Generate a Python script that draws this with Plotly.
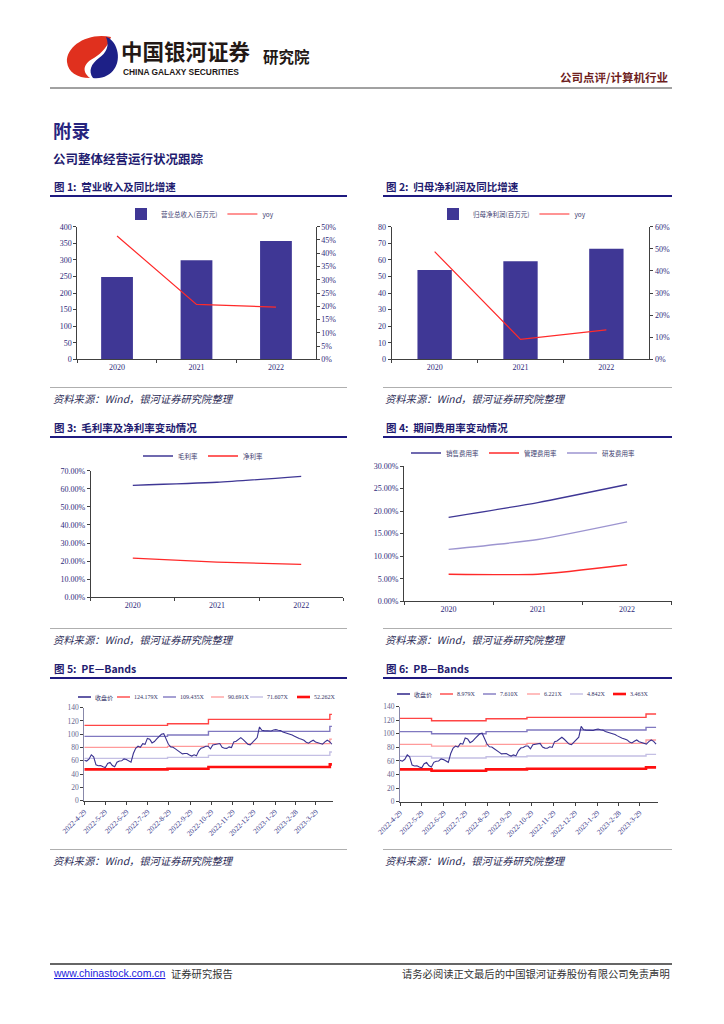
import pandas as pd
import plotly.graph_objects as go

W, H = 724, 1024
CJK = "Noto Sans CJK SC"
SERIF = "Liberation Serif"
SANS = "Liberation Sans"

# ---------------- data ----------------
years = ["2020", "2021", "2022"]
revenue = [248, 299, 357]
revenue_yoy = [0.465, 0.207, 0.197]
net_profit = [53.9, 59.1, 66.7]
net_profit_yoy = [0.487, 0.090, 0.133]
gross_margin = [0.619, 0.636, 0.669]
net_margin = [0.217, 0.195, 0.182]
sales_exp = [0.186, 0.219, 0.259]
admin_exp = [0.060, 0.060, 0.081]
rd_exp = [0.115, 0.137, 0.176]

close = [61, 59.7, 62.5, 69, 66, 54, 52.7, 53, 51, 50,
         56, 57.7, 53, 51, 58, 59.7, 60, 63, 62, 60.5,
         58, 71, 79, 82, 80.5, 85.8, 84.8, 93.8, 92.5, 87,
         89, 93, 97, 100, 101, 93, 85, 81, 80.5, 78,
         75, 73, 70.5, 71, 71, 68.7, 67.2, 69, 67.5, 75,
         79, 80, 82, 82, 78, 84, 84.5, 85, 86, 80.5,
         79, 78.8, 81, 80, 88.5, 89.5, 93, 95, 92, 88,
         85, 84, 87.8, 91, 95, 111, 106, 105.5, 105, 105.4,
         105, 106.5, 107, 106, 105.5, 103.5, 102.5, 101.5, 100.5, 99,
         97, 95, 93.5, 92.5, 91, 88, 86.5, 89, 91, 88.5,
         87, 86.5, 85, 88.5, 91, 89, 85]
price_start, price_end = "2022-04-29", "2023-04-21"
axis_end = "2023-04-23"

month_ticks = ["2022-04-29", "2022-05-29", "2022-06-29", "2022-07-29", "2022-08-29",
               "2022-09-29", "2022-10-29", "2022-11-29", "2022-12-29", "2023-01-29",
               "2023-02-28", "2023-03-29"]
month_labels = ["2022-4-29", "2022-5-29", "2022-6-29", "2022-7-29", "2022-8-29",
                "2022-9-29", "2022-10-29", "2022-11-29", "2022-12-29", "2023-1-29",
                "2023-2-28", "2023-3-29"]

pe_names = ["124.179X", "109.435X", "90.691X", "71.607X", "52.262X"]
pe_seg_dates = ["2022-04-29", "2022-08-27", "2022-10-25", "2023-04-18"]
pe_bands = [[113.4, 115.9, 122.4, 130.0],
            [96.8, 98.9, 104.4, 111.9],
            [80.3, 81.8, 85.8, 92.8],
            [63.7, 65.2, 68.2, 73.3],
            [47.2, 48.2, 50.7, 54.7]]

pb_names = ["8.979X", "7.610X", "6.221X", "4.842X", "3.463X"]
pb_seg_dates = ["2022-04-29", "2022-06-12", "2022-08-27", "2022-10-23", "2023-04-07"]
pb_bands = [[122.8, 119.4, 122.3, 124.3, 129.2],
            [103.2, 100.2, 103.2, 105.6, 109.5],
            [84.5, 82.0, 84.5, 86.0, 90.9],
            [66.8, 64.4, 66.3, 67.3, 69.8],
            [47.6, 45.7, 47.6, 48.6, 50.6]]

# ---------------- style ----------------
NAVY = "#3f3795"
RED = "#ff2a2a"
LAV = "#9d95d0"
AXC = "#404040"
TICKC = "#2e2a7a"
band_colors = ["#ff4545", "#8078c0", "#ff9a9a", "#c4bfe4", "#ff1010"]
band_widths = [1.4, 1.4, 1.3, 1.4, 2.6]


def px(x):
    return x / W


def py(y):
    return 1 - y / H


annotations = []
shapes = []


def txt(x, y, s, size, color="#1f1f1f", anchor="left", family=CJK):
    annotations.append(dict(x=px(x), y=py(y), xref="paper", yref="paper", text=s,
                            showarrow=False, xanchor=anchor, yanchor="middle",
                            font=dict(size=size, color=color, family=family)))


def hline(x0, x1, y, color, width):
    shapes.append(dict(type="line", xref="paper", yref="paper", x0=px(x0), x1=px(x1),
                       y0=py(y), y1=py(y), line=dict(color=color, width=width)))


def path(cmds, color):
    parts = []
    for c, pts in cmds:
        parts.append(c + " ".join(f"{px(a):.5f},{py(b):.5f}" for a, b in pts))
    shapes.append(dict(type="path", xref="paper", yref="paper", path=" ".join(parts) + " Z",
                       fillcolor=color, line=dict(width=0)))


fig = go.Figure()

# ---------- chart 1 ----------
fig.add_trace(go.Bar(x=years, y=revenue, name="营业总收入(百万元)", width=0.4,
                     marker=dict(color=NAVY, line=dict(width=0)),
                     xaxis="x", yaxis="y", legend="legend"))
fig.add_trace(go.Scatter(x=years, y=revenue_yoy, name="yoy", mode="lines",
                         line=dict(color=RED, width=1.2), xaxis="x", yaxis="y2", legend="legend"))
# ---------- chart 2 ----------
fig.add_trace(go.Bar(x=years, y=net_profit, name="归母净利润(百万元)", width=0.4,
                     marker=dict(color=NAVY, line=dict(width=0)),
                     xaxis="x2", yaxis="y3", legend="legend2"))
fig.add_trace(go.Scatter(x=years, y=net_profit_yoy, name="yoy", mode="lines",
                         line=dict(color=RED, width=1.2), xaxis="x2", yaxis="y4", legend="legend2"))
# ---------- chart 3 ----------
for name, vals, col in [("毛利率", gross_margin, NAVY), ("净利率", net_margin, RED)]:
    fig.add_trace(go.Scatter(x=years, y=vals, name=name, mode="lines",
                             line=dict(color=col, width=1.3, shape="spline", smoothing=0.6),
                             xaxis="x3", yaxis="y5", legend="legend3"))
# ---------- chart 4 ----------
for name, vals, col in [("销售费用率", sales_exp, NAVY), ("管理费用率", admin_exp, RED),
                        ("研发费用率", rd_exp, LAV)]:
    fig.add_trace(go.Scatter(x=years, y=vals, name=name, mode="lines",
                             line=dict(color=col, width=1.3, shape="spline", smoothing=0.6),
                             xaxis="x4", yaxis="y6", legend="legend4"))

# ---------- chart 5 / 6 ----------
dates = pd.date_range(price_start, price_end, periods=len(close))


def band_traces(seg_dates, bands, names, xa, ya):
    for vals, nm, col, wd in zip(bands, names, band_colors, band_widths):
        fig.add_trace(go.Scatter(x=list(seg_dates) + [price_end], y=list(vals) + [vals[-1]],
                                 name=nm, mode="lines", line=dict(color=col, width=wd, shape="hv"),
                                 xaxis=xa, yaxis=ya, showlegend=False))
    fig.add_trace(go.Scatter(x=dates, y=close, name="收盘价", mode="lines",
                             line=dict(color="#3a3290", width=1.1),
                             xaxis=xa, yaxis=ya, showlegend=False))


band_traces(pe_seg_dates, pe_bands, pe_names, "x5", "y7")
band_traces(pb_seg_dates, pb_bands, pb_names, "x6", "y8")


def manual_legend(y, starts, names, colors, widths):
    for x, nm, col, wd in zip(starts, names, colors, widths):
        shapes.append(dict(type="line", xref="paper", yref="paper", x0=px(x), x1=px(x + 13),
                           y0=py(y), y1=py(y), line=dict(color=col, width=wd)))
        txt(x + 15, y, nm, 6, "#333366", family=SERIF if nm[0].isdigit() else CJK)


manual_legend(697, [78, 117, 163, 211, 250, 297], ["收盘价"] + pe_names,
              ["#3a3290"] + band_colors, [1.6] + band_widths)
manual_legend(694, [397, 440, 483, 527, 570, 613], ["收盘价"] + pb_names,
              ["#3a3290"] + band_colors, [1.6] + band_widths)


# ---------------- axes ----------------
def ax(**kw):
    base = dict(showline=True, linecolor=AXC, linewidth=1, ticks="outside", ticklen=3,
                tickwidth=1, tickcolor=AXC, showgrid=False, zeroline=False, fixedrange=True,
                automargin=False, tickfont=dict(family=SERIF, size=8, color=TICKC))
    base.update(kw)
    return base


y12 = [py(359.3), py(226.7)]
cat = dict(type="category", range=[-0.5, 2.5], tickson="boundaries")
date_font = dict(family=SERIF, size=7.3, color="#3a3a8a")
band_yfont = dict(family=SERIF, size=7.5, color="#66668f")

fig.update_layout(
    xaxis=ax(domain=[px(77.3), px(315.7)], anchor="y", **cat),
    yaxis=ax(domain=y12, anchor="x", range=[0, 400], dtick=50, tick0=0),
    yaxis2=ax(overlaying="y", side="right", anchor="x", range=[0, 0.5], dtick=0.05,
              tick0=0, tickformat=".0%"),
    xaxis2=ax(domain=[px(391.7), px(649.3)], anchor="y3", **cat),
    yaxis3=ax(domain=y12, anchor="x2", range=[0, 80], dtick=10, tick0=0),
    yaxis4=ax(overlaying="y3", side="right", anchor="x2", range=[0, 0.6], dtick=0.1,
              tick0=0, tickformat=".0%"),
    xaxis3=ax(domain=[px(90.7), px(343.3)], anchor="y5", **cat),
    yaxis5=ax(domain=[py(597.3), py(470.7)], anchor="x3", range=[0, 0.7], dtick=0.1,
              tick0=0, tickformat=".2%"),
    xaxis4=ax(domain=[px(404), px(671.7)], anchor="y6", **cat),
    yaxis6=ax(domain=[py(601.3), py(466)], anchor="x4", range=[0, 0.3], dtick=0.05,
              tick0=0, tickformat=".2%"),
    xaxis5=ax(domain=[px(84.3), px(333.3)], anchor="y7", type="date",
              range=[price_start, axis_end], tickvals=month_ticks, ticktext=month_labels,
              tickangle=-45, tickfont=date_font),
    yaxis7=ax(domain=[py(800.7), py(707.7)], anchor="x5", range=[0, 140], dtick=20,
              tick0=0, tickfont=band_yfont, linecolor="#8888aa"),
    xaxis6=ax(domain=[px(400), px(657.5)], anchor="y8", type="date",
              range=[price_start, axis_end], tickvals=month_ticks, ticktext=month_labels,
              tickangle=-45, tickfont=date_font),
    yaxis8=ax(domain=[py(801.7), py(706.7)], anchor="x6", range=[0, 140], dtick=20,
              tick0=0, tickfont=band_yfont, linecolor="#8888aa"),
)

leg = dict(orientation="h", xanchor="center", yanchor="middle", bgcolor="rgba(0,0,0,0)",
           font=dict(family=CJK, size=6.5, color="#404070"), itemwidth=30,
           itemclick=False, itemdoubleclick=False)
fig.update_layout(
    legend=dict(leg, x=px(200), y=py(214)),
    legend2=dict(leg, x=px(512), y=py(214)),
    legend3=dict(leg, x=px(203), y=py(456)),
    legend4=dict(leg, x=px(523), y=py(453)),
)

# ---------------- page decorations ----------------
# logo
path([("M", [(111, 37)]), ("C", [(88, 32), (66, 46), (67, 62)]),
      ("C", [(68, 72), (77, 78), (90, 78)]), ("C", [(81, 71), (84, 63), (94, 58)]),
      ("C", [(102, 53), (108, 46), (111, 37)])], "#e0301e")
path([("M", [(93, 78)]), ("C", [(112, 80), (121, 64), (117, 50)]),
      ("C", [(115, 42), (110, 38), (106, 37)]), ("C", [(110, 46), (106, 53), (99, 58)]),
      ("C", [(91, 64), (88, 71), (93, 78)])], "#1d2087")
txt(119, 50, "<b>中国银河证券</b>", 21.5, "#231815")
txt(121, 72, "<b>CHINA GALAXY SECURITIES</b>", 8.4, "#231815", family=SANS)
txt(261, 56, "<b>研究院</b>", 15.5, "#231815")
txt(670, 77, "<b>公司点评/计算机行业</b>", 11.5, "#6e1e1e", anchor="right")
hline(50, 672, 88, "#444444", 1)

txt(51, 130, "<b>附录</b>", 18.5, "#27247e")
txt(51, 158, "<b>公司整体经营运行状况跟踪</b>", 12.5, "#1f1c70")

captions = [(52, 186, "图 1:  营业收入及同比增速"), (384, 186, "图 2:  归母净利润及同比增速"),
            (52, 427, "图 3:  毛利率及净利率变动情况"), (384, 427, "图 4:  期间费用率变动情况"),
            (52, 668, "图 5:  PE—Bands"), (384, 668, "图 6:  PB—Bands")]
for x, y, s in captions:
    txt(x, y, f"<b>{s}</b>", 10.5, "#1f1c70")
for y in (196, 437, 678):
    hline(50, 347, y, "#1f1a80", 2.2)
    hline(383, 672, y, "#1f1a80", 2.2)
for y in (387.5, 628.5, 849.5):
    hline(50, 347, y, "#9a9a9a", 0.8)
    hline(383, 672, y, "#9a9a9a", 0.8)
for y in (398, 639, 860):
    txt(51, y, "<i>资料来源：Wind，银河证券研究院整理</i>", 10.3, "#2a2a55")
    txt(383, y, "<i>资料来源：Wind，银河证券研究院整理</i>", 10.3, "#2a2a55")

hline(50, 672, 964, "#333333", 1.4)
txt(51, 973, "<u>www.chinastock.com.cn</u>", 10.5, "#1a1adc", family=SANS)
txt(169, 973, "证券研究报告", 10.3, "#333333")
txt(672, 973, "请务必阅读正文最后的中国银河证券股份有限公司免责声明", 10.3, "#333333", anchor="right")

fig.update_layout(
    width=W, height=H, margin=dict(l=0, r=0, t=0, b=0, autoexpand=False),
    paper_bgcolor="white", plot_bgcolor="white",
    annotations=annotations, shapes=shapes, hovermode=False,
    font=dict(family=CJK),
)

fig.write_html("out.html", config={"displayModeBar": False},
               post_script="document.body.style.margin='0';document.body.style.overflow='hidden';")
